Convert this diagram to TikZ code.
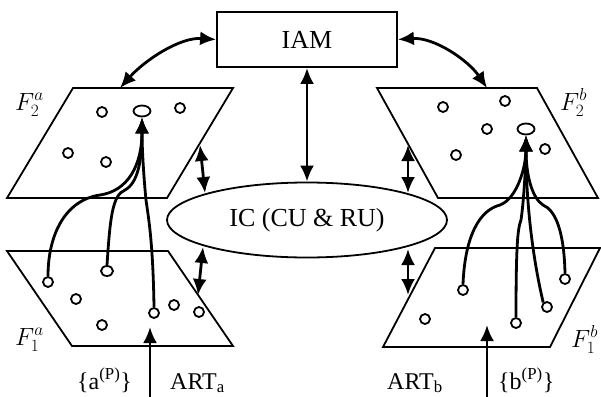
\documentclass[tikz,border=0pt]{standalone}
\usepackage{fontspec}
\setmainfont{Liberation Serif}
\usetikzlibrary{arrows.meta,shapes.geometric}

\tikzset{
  plane/.style={line width=1.8pt, line join=miter},
  dot/.style={circle, draw, line width=1.8pt, inner sep=0pt, minimum size=10pt},
  hub/.style={ellipse, draw, line width=1.8pt, inner sep=0pt, minimum width=17pt, minimum height=11pt},
  tip/.style={Latex[length=16pt,width=14pt]},
  link/.style={line width=2.8pt, -{Latex[length=16pt,width=14pt]}},
  both/.style={line width=2.8pt, {Latex[length=16pt,width=14pt]}-{Latex[length=16pt,width=14pt]}},
  bigtext/.style={font=\fontsize{26}{30}\selectfont, inner sep=0pt},
  lbl/.style={font=\fontsize{24}{28}\selectfont, inner sep=0pt, anchor=base west},
  flbl/.style={font=\fontsize{25}{30}\selectfont, inner sep=0pt, anchor=base west}
}

\begin{document}
\begin{tikzpicture}[x=1pt, y=-1pt]
\useasboundingbox (0,0) rectangle (601,396);

% central blocks
\node[draw, line width=1.8pt, minimum width=180pt, minimum height=55pt, bigtext] (iam) at (307,39.5) {IAM};
\node[ellipse, draw, line width=1.8pt, minimum width=280pt, minimum height=75pt, bigtext] (ic) at (307,220) {IC (CU \& RU)};

% the four planes
\draw[plane] (73,88) -- (233,88) -- (167,198) -- (7,198) -- cycle;
\draw[plane] (7,251) -- (168,251) -- (233,346) -- (72,346) -- cycle;
\draw[plane] (377,88) -- (537,88) -- (598,198) -- (438,198) -- cycle;
\draw[plane] (435,248) -- (600,248) -- (550,347) -- (383,347) -- cycle;

% plane labels
\node[flbl] (lf2a) at (15,110) {$F_2^a$};
\node[flbl] (lf2b) at (560,110) {$F_2^b$};
\node[flbl] (lf1a) at (15,345) {$F_1^a$};
\node[flbl] (lf1b) at (571,347) {$F_1^b$};

% points on F2a
\node[dot] (pa1) at (102,112) {};
\node[hub] (ha)  at (142,111) {};
\node[dot] (pa2) at (180,108) {};
\node[dot] (pa3) at (68,153) {};
\node[dot] (pa4) at (106,162) {};

% points on F2b
\node[dot] (pb1) at (443,107) {};
\node[dot] (pb2) at (505,101) {};
\node[dot] (pb3) at (487,129) {};
\node[hub] (hb)  at (526,129) {};
\node[dot] (pb4) at (456,155) {};
\node[dot] (pb5) at (545,149) {};

% points on F1a
\node[dot] (qa1) at (48,282) {};
\node[hub, minimum width=12pt, minimum height=10pt] (qa2) at (107,271) {};
\node[dot] (qa3) at (76,299) {};
\node[dot] (qa4) at (154,313) {};
\node[dot] (qa5) at (174,305) {};
\node[dot] (qa6) at (199,312) {};
\node[dot] (qa7) at (102,325) {};

% points on F1b
\node[dot] (qb1) at (463,290) {};
\node[dot] (qb2) at (425,319) {};
\node[dot] (qb3) at (516,323) {};
\node[dot] (qb4) at (547,307) {};
\node[dot] (qb5) at (565,279) {};

% links from F1a into the F2a hub
\draw[link] (qa1.north) .. controls (48,235) and (65,200) .. (100,195)
            .. controls (128,191) and (142,165) .. (ha.south);
\draw[link] (qa2.north) .. controls (110,220) and (112,195) .. (125,190)
            .. controls (138,183) and (142,160) .. (ha.south);
\draw[link] (qa4.north) .. controls (153,240) and (148,215) .. (146,200)
            .. controls (144,180) and (142,150) .. (ha.south);

% links from F1b into the F2b hub
\draw[link] (qb1.north) .. controls (465,235) and (480,210) .. (500,205)
            .. controls (518,198) and (526,165) .. (hb.south);
\draw[link] (qb3.north) .. controls (516,240) and (518,228) .. (521,220)
            .. controls (524,200) and (526,160) .. (hb.south);
\draw[link] (qb4.130) .. controls (532,255) and (526,200) .. (hb.south);
\draw[link] (qb5.north) .. controls (564,230) and (555,210) .. (543,205)
            .. controls (532,198) and (526,175) .. (hb.south);

% exchanges with IAM
\coordinate (f2aTop) at (120,88);
\coordinate (f2bTop) at (487,88);
\draw[both] (iam.west) .. controls (180,37) and (145,60) .. (f2aTop);
\draw[both] (iam.east) .. controls (434,37) and (468,60) .. (f2bTop);
\draw[both] (iam.south) -- (ic.north);

% exchanges between planes and IC
\coordinate (ulA) at (200,145);
\coordinate (ulB) at (205,193);
\coordinate (urA) at (408,145);
\coordinate (urB) at (408,193);
\coordinate (llA) at (203,247);
\coordinate (llB) at (198,295);
\coordinate (lrA) at (408,249);
\coordinate (lrB) at (408,295);
\draw[both] (ulA) -- (ulB);
\draw[both] (urA) -- (urB);
\draw[both] (llA) -- (llB);
\draw[both] (lrA) -- (lrB);

% inputs
\coordinate (inA) at (150,397);
\coordinate (tipA) at (150,327);
\coordinate (inB) at (487,397);
\coordinate (tipB) at (487,325);
\draw[link] (inA) -- (tipA);
\draw[link] (inB) -- (tipB);

\node[lbl] (la1) at (77,389) {\{a\textsuperscript{(P)}\}};
\node[lbl] (la2) at (170,389) {ART\textsubscript{a}};
\node[lbl] (lb1) at (387,389) {ART\textsubscript{b}};
\node[lbl] (lb2) at (498,389) {\{b\textsuperscript{(P)}\}};
\end{tikzpicture}
\end{document}
